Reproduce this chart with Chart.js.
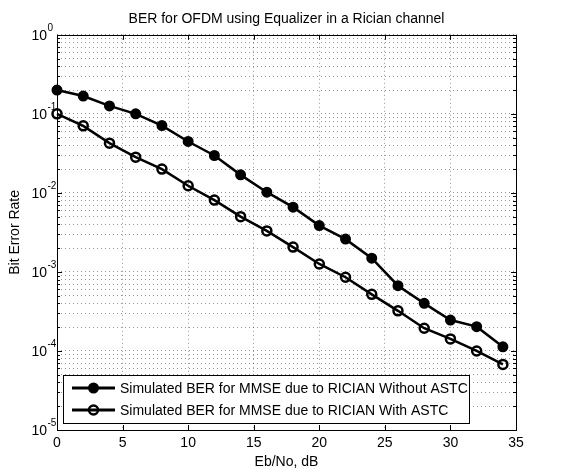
<!DOCTYPE html>
<html>
<head>
<meta charset="utf-8">
<script src="https://cdn.jsdelivr.net/npm/chart.js@4.4.1/dist/chart.umd.min.js"></script>
<style>
  html, body { margin: 0; padding: 0; background: #fff; }
  #wrap { width: 569px; height: 472px; }
</style>
</head>
<body>
<div id="wrap"><canvas id="berChart" width="569" height="472"></canvas></div>
<script>
// Data
const ebNo = [0, 2, 4, 6, 8, 10, 12, 14, 16, 18, 20, 22, 24, 26, 28, 30, 32, 34];
const berWithout = [0.2, 0.168, 0.126, 0.1, 0.071, 0.0447, 0.0297, 0.0169, 0.0102, 0.0066,
    0.00386, 0.0026, 0.00149, 0.00067, 0.0004, 0.000246, 0.000203, 0.000113];
const berWith = [0.1, 0.0705, 0.0426, 0.0283, 0.02, 0.0123, 0.0081, 0.005, 0.0033, 0.00206,
    0.00126, 0.000857, 0.00052, 0.000322, 0.000194, 0.000142, 0.0001, 0.0000676];
const seriesLabels = [
    'Simulated BER for MMSE due to RICIAN Without ASTC',
    'Simulated BER for MMSE due to RICIAN With ASTC'
];
const xTicks = [0, 5, 10, 15, 20, 25, 30, 35];
const yExponents = [-5, -4, -3, -2, -1, 0];

// Log ticks: every 1..9 x 10^k, majors at the decades
const yTickValues = [];
yExponents.forEach(e => {
    const top = e === 0 ? 1 : 9;
    for (let m = 1; m <= top; m++) {
        yTickValues.push(Number((m * Math.pow(10, e)).toPrecision(3)));
    }
});
const isDecade = v => Math.abs(Math.log10(v) - Math.round(Math.log10(v))) < 1e-9;

const FONT = "'Liberation Sans', Arial, sans-serif";
Chart.defaults.font.family = FONT;
Chart.defaults.color = '#000';

const toPoints = arr => arr.map((y, i) => ({ x: ebNo[i], y: y }));

// Axis box, inside tick marks, y labels with superscripts, legend
const matlabLook = {
    id: 'matlabLook',
    afterDraw(chart) {
        const ctx = chart.ctx;
        const a = chart.chartArea;
        const xs = chart.scales.x;
        const ys = chart.scales.y;
        ctx.save();
        ctx.strokeStyle = '#000';
        ctx.lineWidth = 1;

        // inside ticks
        ctx.beginPath();
        yTickValues.forEach(v => {
            const py = Math.round(ys.getPixelForValue(v)) + 0.5;
            const len = isDecade(v) ? 5 : 3;
            ctx.moveTo(a.left, py); ctx.lineTo(a.left + len, py);
            ctx.moveTo(a.right, py); ctx.lineTo(a.right - len, py);
        });
        xTicks.forEach(v => {
            const px = Math.round(xs.getPixelForValue(v)) + 0.5;
            ctx.moveTo(px, a.bottom); ctx.lineTo(px, a.bottom - 5);
            ctx.moveTo(px, a.top); ctx.lineTo(px, a.top + 5);
        });
        ctx.stroke();

        ctx.strokeRect(Math.round(a.left) + 0.5, Math.round(a.top) + 0.5,
            Math.round(a.right - a.left), Math.round(a.bottom - a.top));

        // y tick labels 10^k
        ctx.fillStyle = '#000';
        yExponents.forEach(e => {
            const py = ys.getPixelForValue(Math.pow(10, e));
            ctx.font = '14px ' + FONT;
            ctx.textAlign = 'right';
            ctx.textBaseline = 'middle';
            ctx.fillText('10', 47, py + 1);
            ctx.font = '10px ' + FONT;
            ctx.textAlign = 'left';
            ctx.fillText(e === 0 ? '0' : '-' + Math.abs(e), 47.5, py - 7);
        });

        // legend
        const lx = 63, ly = 375, lw = 406, lh = 48;
        ctx.fillStyle = '#fff';
        ctx.fillRect(lx, ly, lw, lh);
        ctx.strokeRect(lx + 0.5, ly + 0.5, lw, lh);
        chart.data.datasets.forEach((ds, i) => {
            const cy = ly + 13 + i * 22;
            ctx.strokeStyle = ds.borderColor;
            ctx.lineWidth = 3;
            ctx.beginPath();
            ctx.moveTo(72, cy); ctx.lineTo(115, cy);
            ctx.stroke();
            ctx.beginPath();
            ctx.arc(93.5, cy, ds.pointRadius, 0, Math.PI * 2);
            if (ds.pointBackgroundColor !== 'rgba(0,0,0,0)') {
                ctx.fillStyle = ds.pointBackgroundColor;
                ctx.fill();
            }
            ctx.lineWidth = ds.pointBorderWidth;
            ctx.stroke();
            ctx.fillStyle = '#000';
            ctx.font = '14px ' + FONT;
            ctx.textAlign = 'left';
            ctx.textBaseline = 'middle';
            ctx.fillText(ds.label, 120, cy + 1);
        });
        ctx.restore();
    }
};

const ctx = document.getElementById('berChart').getContext('2d');
const berChart = new Chart(ctx, {
    type: 'line',
    data: {
        datasets: [{
            label: seriesLabels[0],
            data: toPoints(berWithout),
            borderColor: '#000',
            borderWidth: 2.5,
            pointRadius: 4.5,
            pointBorderWidth: 2,
            pointBackgroundColor: '#000',
            pointBorderColor: '#000',
            tension: 0,
            clip: false
        }, {
            label: seriesLabels[1],
            data: toPoints(berWith),
            borderColor: '#000',
            borderWidth: 2.5,
            pointRadius: 4.5,
            pointBorderWidth: 2.5,
            pointBackgroundColor: 'rgba(0,0,0,0)',
            pointBorderColor: '#000',
            tension: 0,
            clip: false
        }]
    },
    options: {
        responsive: false,
        animation: false,
        devicePixelRatio: 1,
        layout: { padding: { left: 0, right: 53, top: 0, bottom: 0 } },
        plugins: {
            legend: { display: false },
            tooltip: { enabled: false },
            title: {
                display: true,
                fullSize: false,
                text: 'BER for OFDM using Equalizer in a Rician channel',
                color: '#000',
                font: { size: 14, weight: 'normal' },
                padding: { top: 11, bottom: 7 }
            }
        },
        scales: {
            x: {
                type: 'linear',
                min: 0,
                max: 35,
                afterBuildTicks: scale => { scale.ticks = xTicks.map(v => ({ value: v })); },
                afterFit: scale => { scale.height = 42; },
                ticks: { font: { size: 14 }, color: '#000', padding: 5, maxRotation: 0 },
                grid: { color: 'rgba(0,0,0,0.42)', lineWidth: 1, drawTicks: false },
                border: { display: false, dash: [1, 3] },
                title: {
                    display: true,
                    text: 'Eb/No, dB',
                    color: '#000',
                    font: { size: 14 },
                    padding: { top: 0, bottom: 1 }
                }
            },
            y: {
                type: 'logarithmic',
                min: 1e-5,
                max: 1,
                afterBuildTicks: scale => { scale.ticks = yTickValues.map(v => ({ value: v, major: isDecade(v) })); },
                afterFit: scale => { scale.width = 57; },
                ticks: { display: false },
                grid: { color: 'rgba(0,0,0,0.42)', lineWidth: 1, drawTicks: false },
                border: { display: false, dash: [1, 3] },
                title: {
                    display: true,
                    text: 'Bit Error Rate',
                    color: '#000',
                    font: { size: 14 },
                    padding: { top: 7, bottom: 0 }
                }
            }
        }
    },
    plugins: [matlabLook]
});
</script>
</body>
</html>
